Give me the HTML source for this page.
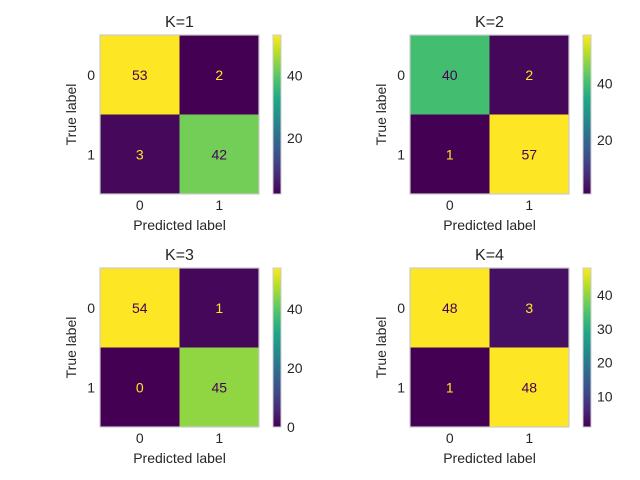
<!DOCTYPE html>
<html><head><meta charset="utf-8"><style>
body{margin:0;background:#fff;}
svg{display:block;font-family:"Liberation Sans",sans-serif;}
</style></head><body>
<svg id="chart" width="640" height="480">
<defs>
<linearGradient id="vir" x1="0" y1="1" x2="0" y2="0">
<stop offset="0" stop-color="#440154"/><stop offset="0.1" stop-color="#482475"/><stop offset="0.2" stop-color="#414487"/><stop offset="0.3" stop-color="#355f8d"/><stop offset="0.4" stop-color="#2a788e"/><stop offset="0.5" stop-color="#21918c"/><stop offset="0.6" stop-color="#22a884"/><stop offset="0.7" stop-color="#44bf70"/><stop offset="0.8" stop-color="#7ad151"/><stop offset="0.9" stop-color="#bddf26"/><stop offset="1" stop-color="#fde725"/>
</linearGradient>
</defs>
</svg>
<script>
const titles = ["K=1","K=2","K=3","K=4"];
const matK1 = [[53,2],[3,42]];
const matK2 = [[40,2],[1,57]];
const matK3 = [[54,1],[0,45]];
const matK4 = [[48,3],[1,48]];
const cbTicksK1 = [20,40];
const cbTicksK2 = [20,40];
const cbTicksK3 = [0,20,40];
const cbTicksK4 = [10,20,30,40];
const classLabels = ["0","1"];
const mats=[matK1,matK2,matK3,matK4];
const cbTicks=[cbTicksK1,cbTicksK2,cbTicksK3,cbTicksK4];
const origins=[[100,35],[410,35],[100,268],[410,268]];
const VIR=["#440154","#482475","#414487","#355f8d","#2a788e","#21918c","#22a884","#44bf70","#7ad151","#bddf26","#fde725"];
function hex(h){return [1,3,5].map(i=>parseInt(h.substr(i,2),16));}
function viridis(t){t=Math.max(0,Math.min(1,t));const p=t*10,i=Math.min(9,Math.floor(p)),f=p-i;const a=hex(VIR[i]),b=hex(VIR[i+1]);return "rgb("+a.map((v,k)=>Math.round(v+(b[k]-v)*f)).join(",")+")";}
const svg=document.getElementById('chart');const NS="http://www.w3.org/2000/svg";
function el(tag,attrs,parent,text){const e=document.createElementNS(NS,tag);for(const k in attrs)e.setAttribute(k,attrs[k]);if(text!==undefined)e.textContent=text;(parent||svg).appendChild(e);return e;}
const S=159,C=S/2;
mats.forEach((m,pi)=>{
  const [x0,y0]=origins[pi];
  const flat=m.flat();const mn=Math.min(...flat),mx=Math.max(...flat);
  const g=el('g',{});
  
  
  const t=el('text',{x:x0+S/2,y:y0-8,'text-anchor':'middle','font-size':16,fill:'#262626'},g,titles[pi]);
  
  m.forEach((row,r)=>row.forEach((v,c)=>{
    const rc=el('rect',{x:x0+c*C,y:y0+r*C,width:C,height:C,fill:viridis((v-mn)/(mx-mn))},g);
    
    const tx=el('text',{x:x0+c*C+C/2,y:y0+r*C+C/2+5,'text-anchor':'middle','font-size':14,fill:v<(mn+mx)/2?'#fde725':'#440154'},g,String(v));
    
  }));
  const fr=el('rect',{x:x0,y:y0,width:S,height:S,fill:'none',stroke:'#ccc','stroke-width':1.2},g);
  
  classLabels.forEach((l,i)=>{
    const a=el('text',{x:x0+i*C+C/2,y:y0+S+16,'text-anchor':'middle','font-size':14,fill:'#262626'},g,l);
    
    const b=el('text',{x:x0-5,y:y0+i*C+C/2+5,'text-anchor':'end','font-size':14,fill:'#262626'},g,l);
    
  });
  const xl=el('text',{x:x0+S/2,y:y0+S+36,'text-anchor':'middle','font-size':14,fill:'#262626'},g,'Predicted label');
  
  const yl=el('text',{x:0,y:0,'text-anchor':'middle','font-size':14,fill:'#262626',transform:'translate('+(x0-24)+','+(y0+S/2)+') rotate(-90)'},g,'True label');
  
  const cx=x0+173;
  const cb=el('rect',{x:cx,y:y0,width:8,height:S,fill:'url(#vir)',stroke:'#ccc','stroke-width':1},g);
  
  cbTicks[pi].forEach(tv=>{
    const yy=y0+S-(tv-mn)/(mx-mn)*S;
    const tl=el('text',{x:cx+14,y:yy+5,'font-size':14,fill:'#262626'},g,String(tv));
    
  });
});
</script>
</body></html>
